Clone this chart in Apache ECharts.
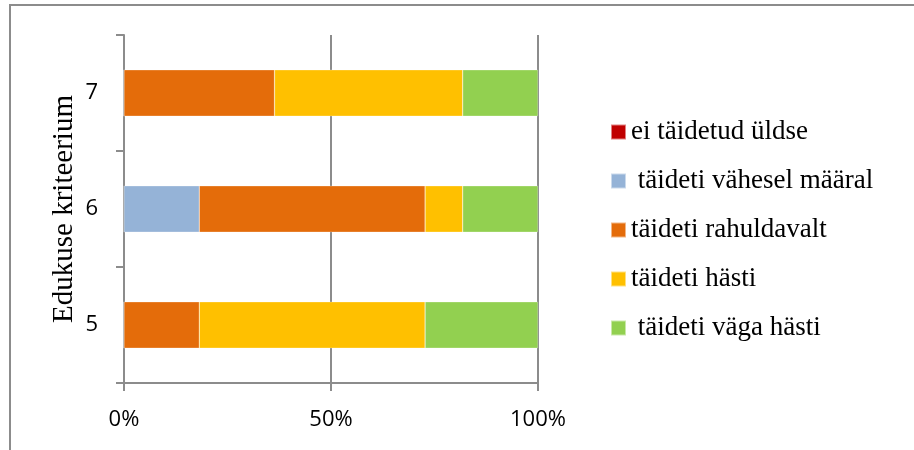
<!DOCTYPE html>
<html>
<head>
<meta charset="utf-8">
<script src="https://cdn.jsdelivr.net/npm/echarts@6/dist/echarts.min.js"></script>
<style>
  html, body { margin: 0; padding: 0; background: #fff; overflow: hidden; }
  #chart { width: 914px; height: 450px; }
</style>
</head>
<body>
<div id="chart"></div>
<script>
// kriteeriumid (alt -> üles)
var categories = ['5', '6', '7'];
var seriesNames = ['ei täidetud üldse', ' täideti vähesel määral', 'täideti rahuldavalt', 'täideti hästi', ' täideti väga hästi'];
var colors = ['#C00000', '#95B3D7', '#E46C0A', '#FFC000', '#92D050'];
// vastuste arv igas kategoorias
var eiTaidetud = [0, 0, 0];
var vahesel = [0, 2, 0];
var rahuldavalt = [2, 6, 4];
var hasti = [6, 1, 5];
var vagaHasti = [3, 2, 2];
var xTicks = [0, 50, 100];

var raw = [eiTaidetud, vahesel, rahuldavalt, hasti, vagaHasti];
var totals = categories.map(function (c, i) {
    var s = 0;
    for (var k = 0; k < raw.length; k++) s += raw[k][i];
    return s;
});

var mychart = echarts.init(document.getElementById('chart'));

var series = raw.map(function (arr, k) {
    return {
        name: seriesNames[k],
        type: 'bar',
        stack: 'total',
        barWidth: '40%',
        data: arr.map(function (v, i) { return v / totals[i] * 100; }),
        itemStyle: { color: colors[k], borderColor: 'rgba(255,255,255,0.5)', borderWidth: 0.5 }
    };
});

var option = {
    animation: false,
    graphic: [{
        type: 'rect',
        shape: { x: 10, y: 5, width: 1000, height: 600 },
        style: { fill: 'none', stroke: '#8c8c8c', lineWidth: 2 },
        silent: true
    }],
    grid: { left: 124, right: 376, top: 35, bottom: 67 },
    legend: {
        orient: 'vertical',
        left: 610,
        top: 118,
        padding: 0,
        itemWidth: 15,
        itemHeight: 15,
        itemGap: 21,
        icon: 'rect',
        textStyle: {
            fontFamily: 'Liberation Serif',
            fontSize: 27,
            lineHeight: 28,
            color: '#000'
        },
        data: seriesNames
    },
    xAxis: {
        type: 'value',
        min: 0,
        max: 100,
        interval: 50,
        axisLine: { show: true, lineStyle: { color: '#8c8c8c', width: 2 } },
        axisTick: { show: true, length: 8, lineStyle: { color: '#8c8c8c', width: 2 } },
        splitLine: { show: true, lineStyle: { color: '#8c8c8c', width: 2 } },
        axisLabel: {
            margin: 26,
            fontFamily: 'Open Sans',
            fontSize: 22,
            color: '#000',
            formatter: function (v) { return xTicks.indexOf(v) >= 0 ? v + '%' : ''; }
        }
    },
    yAxis: {
        type: 'category',
        data: categories,
        name: 'Edukuse kriteerium',
        nameLocation: 'middle',
        nameRotate: 90,
        nameGap: 45,
        nameTextStyle: { fontFamily: 'Liberation Serif', fontSize: 29, color: '#000' },
        axisLine: { show: true, lineStyle: { color: '#8c8c8c', width: 2 } },
        axisTick: { show: true, length: 8, lineStyle: { color: '#8c8c8c', width: 2 } },
        axisLabel: { margin: 26, fontFamily: 'Open Sans', fontSize: 22, color: '#000' }
    },
    series: series
};

mychart.setOption(option);
</script>
</body>
</html>
